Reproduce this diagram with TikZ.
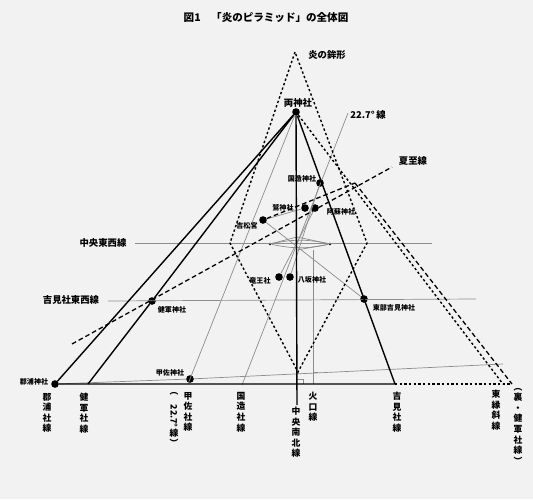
\documentclass[tikz,border=0pt]{standalone}
\usepackage{fontspec}
\setmainfont{Noto Sans CJK JP}
\begin{document}
\begin{tikzpicture}[x=0.03cm,y=-0.03cm,
  lbl/.style={font=\bfseries\fontsize{8}{9}\selectfont, inner sep=1pt},
  small/.style={font=\bfseries\fontsize{6}{7}\selectfont, inner sep=0.5pt},
  vlab/.style={font=\bfseries\fontsize{7.5}{9}\selectfont, align=center, anchor=north, inner sep=0pt},
  dot/.style={circle, fill=black, inner sep=0pt, minimum size=6.5pt},
  tiny dot/.style={circle, fill=black, inner sep=0pt, minimum size=2.5pt},
  edge/.style={line width=1.2pt},
  thin/.style={black!45, line width=0.6pt},
  flame/.style={line width=1.2pt, dash pattern=on 2pt off 2pt},
  longdash/.style={line width=1.1pt, dash pattern=on 4pt off 2.5pt}]
\useasboundingbox (0,0) rectangle (533,499);
\fill[black!5] (0,0) rectangle (533,499);

\node[font=\bfseries\fontsize{9}{10}\selectfont] (title) at (266,18) {図1　「炎のピラミッド」の全体図};

% points
\coordinate (apex) at (296,112);
\coordinate (tip) at (295,52);
\coordinate (fl) at (230,243);
\coordinate (fr) at (367,243);
\coordinate (fb) at (298,372);
\coordinate (kenB) at (88,384);
\coordinate (kozaB) at (188,384);
\coordinate (kokuB) at (242,385);
\coordinate (yoshiB) at (395,384);
\coordinate (higashiB) at (503,384);
\coordinate (uraB) at (512,384);
\coordinate (uraT) at (355,183);
\coordinate (cS) at (297,405);
\coordinate (kakoT) at (313,250);
\coordinate (kakoB) at (313,384);
\coordinate (k227) at (348,113);
\coordinate (geshiL) at (72,344);
\coordinate (geshiR) at (392,167);
\coordinate (ewL) at (135,243);
\coordinate (ewR) at (432,243);
\coordinate (yewL) at (108,301);
\coordinate (yewR) at (476,299);
\coordinate (lowR) at (503,364);
\coordinate (ct) at (297,237);
\coordinate (cb) at (297,250);

% shrines
\node[dot] (ryokami) at (apex) {};
\node[dot] (kokuzo) at (320,183) {};
\node[dot] (washi) at (305,208) {};
\node[dot] (aso) at (315,208) {};
\node[dot] (yoshimatsu) at (263,220) {};
\node[dot] (ryuo) at (279,277) {};
\node[dot] (yasaka) at (290,277) {};
\node[dot] (kengun) at (152,301) {};
\node[dot] (tobu) at (364,299) {};
\node[dot] (koza) at (190,379) {};
\node[dot] (koura) at (55,384) {};
\node[tiny dot] (cl) at (270,244) {};
\node[tiny dot] (cr) at (330,244) {};

% thin lines
\draw[thin] (ewL) -- (ewR);
\draw[thin] (yewL) -- (yewR);
\draw[thin] (koura) -- (koza) -- (lowR);
\draw[thin] (ryokami) -- (kozaB);
\draw[thin] (k227) -- (kokuB);
\draw[thin] (kakoT) -- (kakoB);
\draw[thin] (yoshimatsu) -- (tobu);
\draw[thin] (yoshimatsu) -- (washi);
\draw[thin] (aso) -- (ryuo);
\draw[thin] (kokuzo) -- (yasaka);
\draw[thin] (cl) -- (ct) -- (cr) -- (cb) -- cycle;
\draw[thin] (cl) to[bend left=12] (cr);
\draw[thin] (cl) to[bend right=12] (cr);
\draw[thin] (318,372) -| (313,367);
\draw[thin] (303,384) |- (297,379);

% dashed lines
\draw[flame] (tip) -- (fl) -- (fb) -- (fr) -- cycle;
\draw[longdash] (geshiL) -- (geshiR);
\draw[flame] (ryokami) -- (higashiB);
\draw[longdash] (uraT) -- (uraB);
\draw[longdash] (yoshimatsu) -- (uraT);
\draw[flame] (yoshiB) -- (uraB);

% pyramid
\draw[edge] (ryokami) -- (koura) -- (yoshiB) -- (ryokami);
\draw[edge] (ryokami) -- (kengun) -- (kenB);
\draw[edge] (ryokami) -- (cS);

% labels
\node[lbl] (lTip) at (327,55) {炎の鉾形};
\node[lbl] (lRyo) at (298,103) {両神社};
\node[lbl] (l227) at (368,115) {22.7°\,線};
\node[lbl] (lGeshi) at (413,161) {夏至線};
\node[small] (lKoku) at (302,179) {国造神社};
\node[small] (lWashi) at (283,208) {鷲神社};
\node[small] (lAso) at (341,212) {阿蘇神社};
\node[small] (lYoshimatsu) at (247,226) {吉松宮};
\node[lbl] (lEW) at (103,243) {中央東西線};
\node[small] (lRyuo) at (260,281) {竜王社};
\node[small] (lYasaka) at (312,280) {八坂神社};
\node[lbl] (lYEW) at (71,300) {吉見社東西線};
\node[small] (lKengun) at (172,310) {健軍神社};
\node[small] (lTobu) at (394,308) {東部吉見神社};
\node[small] (lKoza) at (170,373) {甲佐神社};
\node[small] (lKoura) at (34,382) {郡浦神社};

\node[vlab] (vKoura) at (47,393) {郡\\浦\\社\\線};
\node[vlab] (vKen) at (84,393) {健\\軍\\社\\線};
\node[vlab] (vKoza) at (188,392) {甲\\佐\\社\\線};
\node[vlab] (vKoza2) at (174,392) {︵\\\rotatebox{-90}{22.7°}\\線\\︶};
\node[vlab] (vKoku) at (241,392) {国\\造\\社\\線};
\node[vlab] (vCenter) at (296,407) {中\\央\\南\\北\\線};
\node[vlab] (vKako) at (313,392) {火\\口\\線};
\node[vlab] (vYoshi) at (397,392) {吉\\見\\社\\線};
\node[vlab] (vHigashi) at (496,390) {東\\縁\\斜\\線};
\node[vlab] (vUra) at (518,388) {︵\\裏\\・\\健\\軍\\社\\線\\︶};
\end{tikzpicture}
\end{document}
